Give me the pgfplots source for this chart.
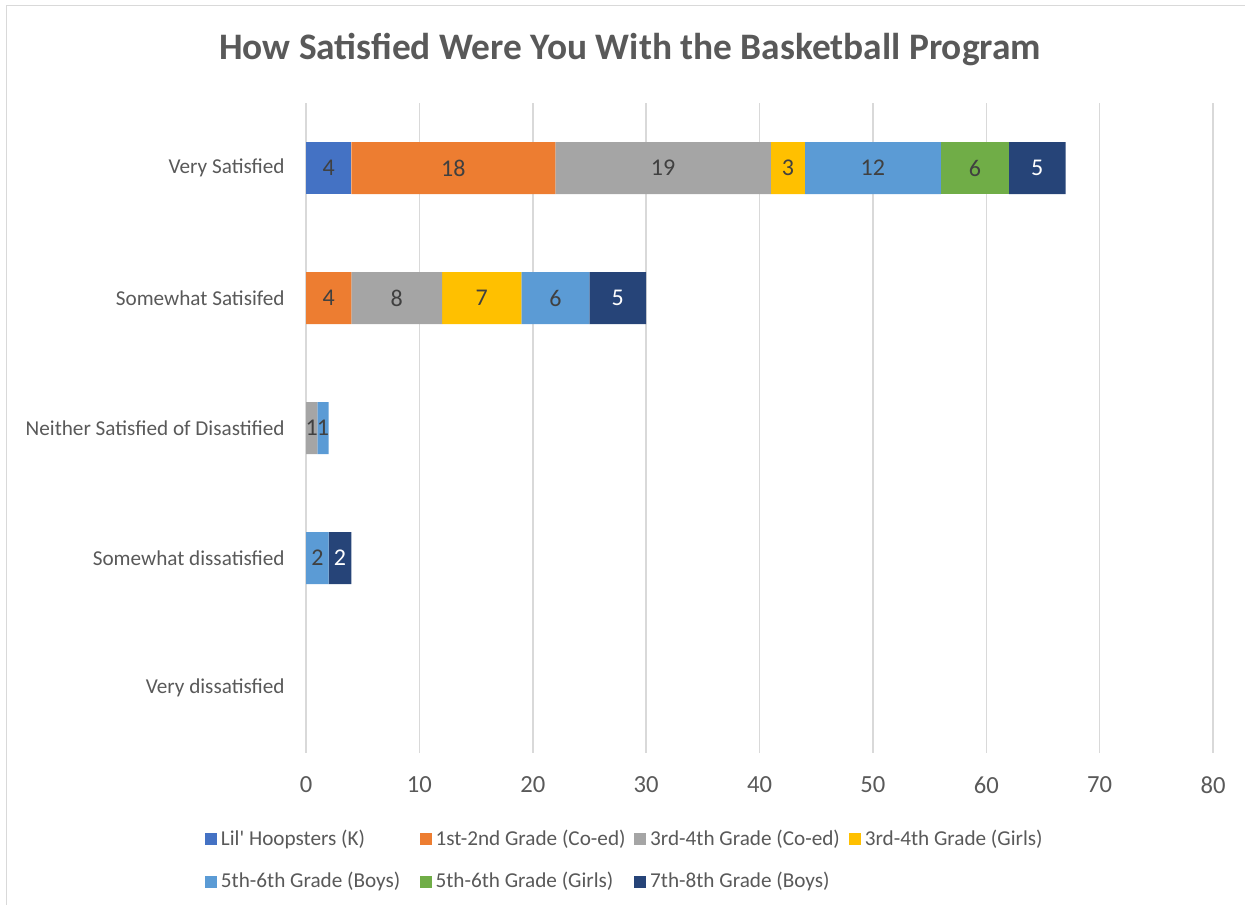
\documentclass[border=0pt]{standalone}
\usepackage{pgfplots}
\pgfplotsset{compat=1.18}
\usepackage{pgfplotstable}
\usepackage{fontspec}
\setmainfont{Carlito}
\definecolor{c1}{HTML}{4472C4}
\definecolor{c2}{HTML}{ED7D31}
\definecolor{c3}{HTML}{A5A5A5}
\definecolor{c4}{HTML}{FFC000}
\definecolor{c5}{HTML}{5B9BD5}
\definecolor{c6}{HTML}{70AD47}
\definecolor{c7}{HTML}{264478}
\definecolor{txt}{HTML}{595959}
\definecolor{lab}{HTML}{404040}
\definecolor{gridc}{HTML}{D9D9D9}

\pgfplotstableread{
y lh g12 g34c g34g g56b g56g g78b
0 4 18 19 3 12 6 5
1 0 4 8 7 6 0 5
2 0 0 1 0 1 0 0
3 0 0 0 0 2 0 2
4 0 0 0 0 0 0 0
}\data

\begin{document}
\begin{tikzpicture}[x=1pt,y=1pt]
\path[use as bounding box] (0,0) rectangle (622.5,452);
\draw[gridc, line width=0.75pt] (3.25,-5) -- (3.25,449.25) -- (630,449.25);
\node[font=\fontsize{18.7}{22}\selectfont\bfseries, text=txt] at (315,427) {How Satisfied Were You With the Basketball Program};
\begin{axis}[
  at={(153pt,75.5pt)}, anchor=south west,
  scale only axis, width=453.5pt, height=325pt,
  xbar stacked, bar width=26pt,
  xmin=0, xmax=80, xtick={0,10,...,80},
  ymin=-0.5, ymax=4.5, y dir=reverse,
  ytick={0,1,2,3,4},
  yticklabels={Very Satisfied, Somewhat Satisifed, Neither Satisfied of Disastified, Somewhat dissatisfied, Very dissatisfied},
  axis line style={draw=none},
  major tick length=0pt,
  xmajorgrids, grid style={gridc, line width=0.75pt},
  clip=false,
  /pgf/number format/assume math mode=true,
  yticklabel style={font=\fontsize{10.6}{12}\selectfont, text=txt, inner sep=0pt, anchor=east, xshift=-10.5pt},
  xticklabel style={font=\fontsize{12.3}{14}\selectfont, text=txt, inner sep=0pt, anchor=center, yshift=-16pt},
  visualization depends on=rawx \as \rawx,
  nodes near coords={\ifdim\rawx pt<0.5pt\else\pgfmathprintnumber{\rawx}\fi},
  every node near coord/.append style={font=\fontsize{12}{14}\selectfont, text=lab, anchor=center, inner sep=0pt},
  legend columns=4,
  legend style={at={(-0.1114,-0.112)}, anchor=north west, draw=none, inner sep=0pt, outer sep=0pt,
    font=\fontsize{10.6}{12}\selectfont, text=txt,
    /tikz/every even column/.append style={column sep=0pt}, row sep=8pt},
  legend cell align=left,
  legend image code/.code={\fill[#1] (0pt,-3pt) rectangle (6pt,3pt);},
]
\addplot[fill=c1, draw=none] table[x=lh, y=y] {\data};
\addlegendentry{\makebox[97.3pt][l]{Lil\textquotesingle\ Hoopsters (K)}}
\addplot[fill=c2, draw=none] table[x=g12, y=y] {\data};
\addlegendentry{\makebox[97.3pt][l]{1st-2nd Grade (Co-ed)}}
\addplot[fill=c3, draw=none] table[x=g34c, y=y] {\data};
\addlegendentry{\makebox[97.3pt][l]{3rd-4th Grade (Co-ed)}}
\addplot[fill=c4, draw=none] table[x=g34g, y=y] {\data};
\addlegendentry{\makebox[97.3pt][l]{3rd-4th Grade (Girls)}}
\addplot[fill=c5, draw=none] table[x=g56b, y=y] {\data};
\addlegendentry{\makebox[97.3pt][l]{5th-6th Grade (Boys)}}
\addplot[fill=c6, draw=none] table[x=g56g, y=y] {\data};
\addlegendentry{\makebox[97.3pt][l]{5th-6th Grade (Girls)}}
\addplot[fill=c7, draw=none, every node near coord/.append style={text=white}] table[x=g78b, y=y] {\data};
\addlegendentry{\makebox[97.3pt][l]{7th-8th Grade (Boys)}}
\end{axis}
\end{tikzpicture}
\end{document}
